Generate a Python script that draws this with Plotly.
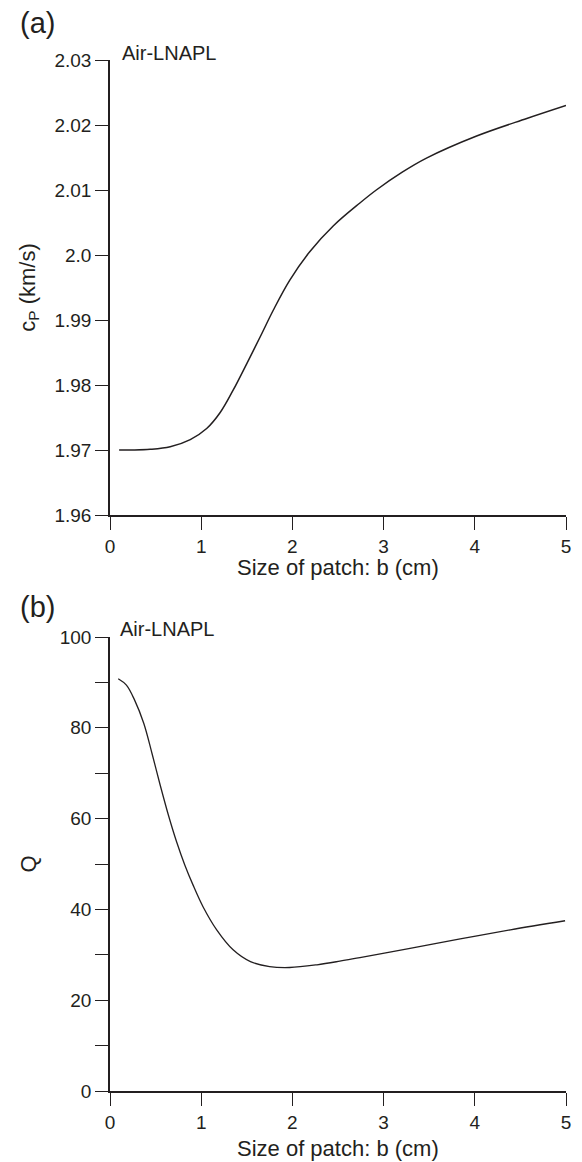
import plotly.graph_objects as go

# Panel (a): P-wave velocity vs patch size
b_a = [0.10, 0.25, 0.44, 0.66, 0.88, 1.06, 1.21, 1.35, 1.50, 1.65, 1.79, 1.97, 2.19,
       2.45, 2.74, 2.92, 3.20, 3.47, 4.02, 4.57, 5.00]
cp = [1.9700, 1.9700, 1.9701, 1.9705, 1.9716, 1.9733, 1.9758, 1.9792, 1.9833, 1.9875,
      1.9915, 1.9961, 2.0005, 2.0045, 2.0080, 2.0100, 2.0127, 2.0149, 2.0183, 2.0210, 2.0230]

# Panel (b): quality factor vs patch size
b_b = [0.09, 0.18, 0.27, 0.37, 0.46, 0.55, 0.64, 0.73, 0.82, 0.91, 1.02, 1.17, 1.35,
       1.54, 1.75, 1.97, 2.27, 2.52, 2.74, 3.29, 3.84, 4.39, 4.99]
Q = [90.8, 89.4, 86.1, 81.0, 74.4, 67.4, 60.8, 54.9, 49.8, 45.4, 40.6, 35.5, 31.1,
     28.5, 27.4, 27.2, 27.8, 28.6, 29.4, 31.4, 33.5, 35.5, 37.5]

x_ticks = [0, 1, 2, 3, 4, 5]
ya_ticks = [1.96, 1.97, 1.98, 1.99, 2.00, 2.01, 2.02, 2.03]
ya_text = ["1.96", "1.97", "1.98", "1.99", "2.0", "2.01", "2.02", "2.03"]
yb_ticks = [0, 10, 20, 30, 40, 50, 60, 70, 80, 90, 100]
yb_text = ["0", "", "20", "", "40", "", "60", "", "80", "", "100"]

INK = "#231f20"
FONT = "Liberation Sans, Arial, Helvetica, sans-serif"

fig = go.Figure()
fig.add_trace(go.Scatter(x=b_a, y=cp, mode="lines", xaxis="x", yaxis="y",
                         line=dict(color=INK, width=1.5, shape="spline", smoothing=1.0),
                         showlegend=False))
fig.add_trace(go.Scatter(x=b_b, y=Q, mode="lines", xaxis="x2", yaxis="y2",
                         line=dict(color=INK, width=1.3, shape="spline", smoothing=1.0),
                         showlegend=False))

H_TOP, H_BOT = 60, 71
PH = 1162 - H_TOP - H_BOT

def py(pix):
    return (1162 - H_BOT - pix) / PH

def px(pix):
    return (pix - 110) / 456

axis_common = dict(showline=True, linecolor=INK, linewidth=1.5, ticks="outside",
                   ticklen=13, tickwidth=1.3, tickcolor=INK, showgrid=False,
                   zeroline=False, tickfont=dict(size=19, color=INK, family=FONT))

fig.update_layout(
    width=582, height=1162,
    margin=dict(l=110, r=16, t=H_TOP, b=H_BOT),
    paper_bgcolor="white", plot_bgcolor="white",
    font=dict(family=FONT, color=INK),
    xaxis=dict(domain=[0, 1], anchor="y", range=[0, 5], tickvals=x_ticks, **axis_common),
    yaxis=dict(domain=[py(515), 1], anchor="x", range=[1.96, 2.03], tickvals=ya_ticks,
               ticktext=ya_text,
               title=dict(text="c<sub>P</sub> (km/s)", font=dict(size=22, color=INK), standoff=13),
               **axis_common),
    xaxis2=dict(domain=[0, 1], anchor="y2", range=[0, 5], tickvals=x_ticks, **axis_common),
    yaxis2=dict(domain=[0, py(637)], anchor="x2", range=[0, 100], tickvals=yb_ticks,
                ticktext=yb_text,
                title=dict(text="Q", font=dict(size=22, color=INK), standoff=17),
                **axis_common),
)

anns = [
    dict(text="(a)", x=px(18), y=py(23), size=29, xa="left"),
    dict(text="(b)", x=px(18), y=py(607), size=29, xa="left"),
    dict(text="Air-LNAPL", x=px(120), y=py(53), size=20, xa="left"),
    dict(text="Air-LNAPL", x=px(118), y=py(629), size=20, xa="left"),
    dict(text="Size of patch: b (cm)", x=px(338), y=py(567), size=22, xa="center"),
    dict(text="Size of patch: b (cm)", x=px(338), y=py(1148), size=22, xa="center"),
]
for a in anns:
    fig.add_annotation(text=a["text"], x=a["x"], y=a["y"], xref="paper", yref="paper",
                       xanchor=a["xa"], yanchor="middle", showarrow=False,
                       font=dict(size=a["size"], color=INK, family=FONT))

fig.write_html("out.html")
